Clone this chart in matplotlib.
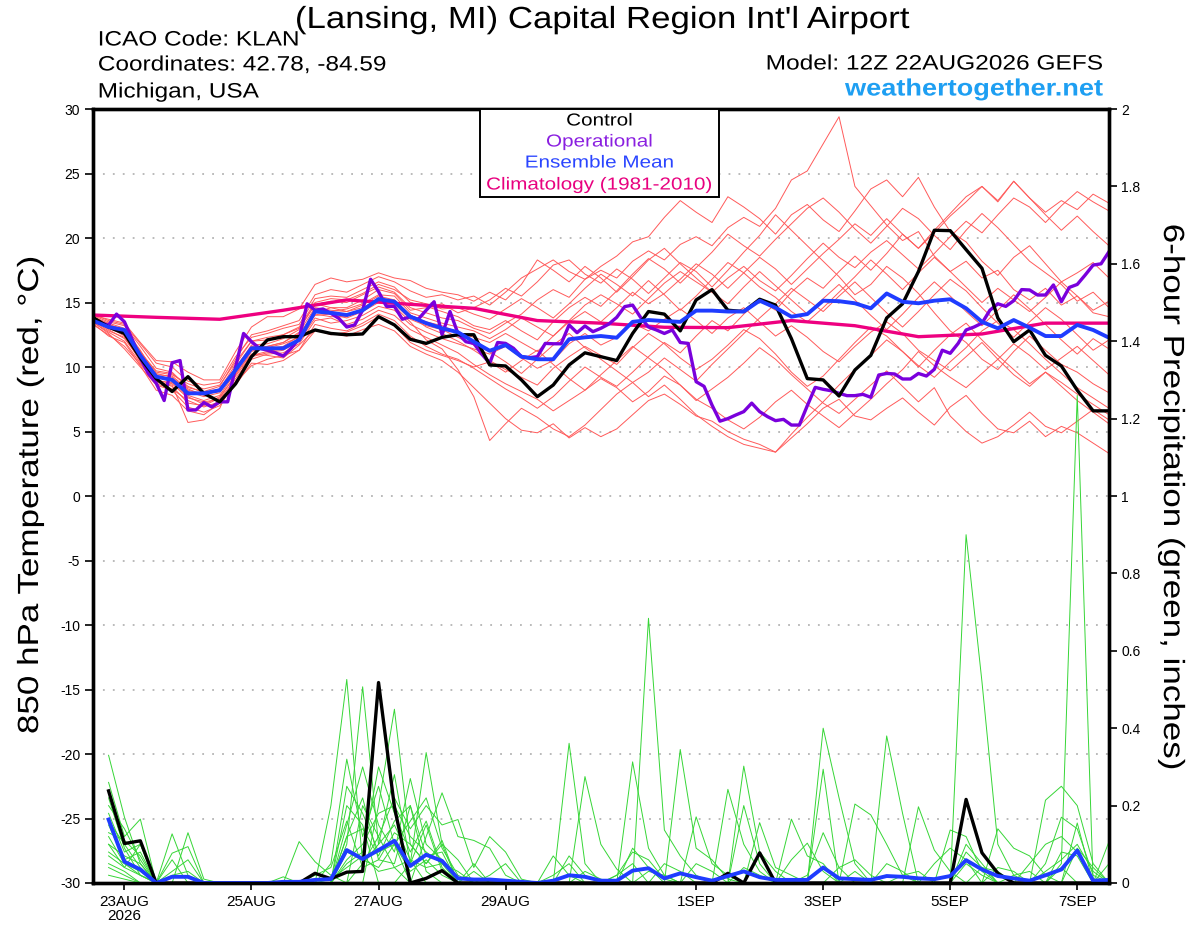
import matplotlib
matplotlib.use('Agg')
import matplotlib.pyplot as plt
from matplotlib.patches import Rectangle
from matplotlib.patheffects import AbstractPathEffect
from matplotlib.transforms import Affine2D
import numpy as np

plt.rcParams['font.family'] = ['Liberation Sans', 'DejaVu Sans']

# ---------------- DATA ----------------
# 6-hourly GEFS steps from 22AUG2026 12Z (hour 0) to hour 384
control_temp = [13.85, 13.1, 12.6, 10.7, 9.1, 8.1, 9.25, 7.96, 7.3, 8.7,
                10.8, 12.1, 12.35, 12.35, 12.87, 12.6, 12.5, 12.56, 13.9, 13.26,
                12.15, 11.83, 12.3, 12.5, 12.5, 10.16, 10.08, 9.0, 7.7, 8.6,
                10.16, 11.1, 10.8, 10.5, 12.6, 14.3, 14.1, 12.8, 15.2, 16.0,
                14.4, 14.3, 15.25, 14.8, 12.2, 9.1, 9.0, 7.75, 9.77, 10.9,
                13.8, 14.9, 17.4, 20.6, 20.57, 19.1, 17.65, 13.8, 11.96, 12.87,
                10.9, 10.08, 8.2, 6.6, 6.6]

mean_temp = [13.6, 13.1, 12.87, 10.9, 9.25, 9.0, 7.96, 7.96, 8.2, 9.77,
             11.45, 11.45, 11.45, 12.1, 14.3, 14.2, 14.03, 14.4, 15.27, 15.06,
             13.9, 13.4, 13.0, 12.7, 11.96, 11.26, 11.7, 10.8, 10.6, 10.6,
             12.15, 12.3, 12.4, 12.27, 13.5, 13.64, 13.56, 13.5, 14.37, 14.37,
             14.3, 14.3, 15.14, 14.6, 13.9, 14.1, 15.14, 15.1, 14.94, 14.55,
             15.7, 15.06, 14.94, 15.14, 15.25, 14.55, 13.5, 13.0, 13.64, 13.05,
             12.4, 12.4, 13.26, 12.87, 12.27]

# operational run, 3-hourly
oper_temp = [13.7, 13.4, 13.25, 14.1, 13.5, 12.1, 10.7, 9.5, 8.75, 7.4,
             10.33, 10.5, 6.67, 6.67, 7.24, 6.9, 7.3, 7.3, 10.0, 12.6,
             11.96, 11.45, 11.3, 11.1, 10.85, 11.45, 12.2, 14.9, 14.4, 14.5,
             14.16, 13.77, 13.1, 13.26, 14.4, 16.8, 15.84, 14.7, 14.7, 13.7,
             13.9, 13.7, 14.4, 15.06, 12.5, 14.3, 12.6, 11.96, 11.83, 11.0,
             10.3, 11.9, 11.83, 11.45, 10.8, 10.72, 10.8, 11.83, 11.8, 11.8,
             13.26, 12.66, 13.18, 12.74, 13.0, 13.33, 13.85, 14.68, 14.8, 13.85,
             13.1, 12.87, 12.6, 12.87, 11.9, 11.83, 8.86, 8.5, 7.05, 5.8,
             6.0, 6.28, 6.54, 7.2, 6.54, 6.15, 5.84, 5.94, 5.5, 5.5,
             7.0, 8.42, 8.27, 8.16, 7.96, 7.78, 7.78, 7.88, 7.65, 9.38,
             9.5, 9.46, 9.07, 9.07, 9.5, 9.3, 9.82, 11.3, 11.06, 11.83,
             12.87, 13.1, 13.4, 14.4, 14.9, 14.7, 15.14, 16.0, 15.97, 15.58,
             15.58, 16.36, 15.06, 16.17, 16.4, 17.13, 17.9, 18.0, 18.94]

# climatology, daily
clim_temp = [14.03, 13.85, 13.7, 14.4, 15.2, 14.86, 14.55, 13.6, 13.4,
             13.08, 13.05, 13.6, 13.2, 12.35, 12.56, 13.4, 13.4]

# ensemble members, 850 hPa temperature (6-hourly)
mem_t01 = [13.8,13.3,12.9,11.2,9.6,9.4,8.7,8.3,8.6,10.4,12.0,12.3,12.5,13.0,14.8,15.1,15.0,15.6,16.2,15.8,14.6,14.2,13.8,13.6,13.0,
           12.6,13.4,14.1,15.2,16.0,15.4,16.8,17.5,16.9,18.2,19.0,18.3,19.5,20.1,19.4,20.8,21.6,20.9,22.3,24.5,
           25.2,27.3,29.4,24.0,22.5,21.0,19.8,20.5,18.6,17.4,18.2,16.9,17.5,16.0,15.2,16.1,14.8,15.5,14.2,13.9]
mem_t02 = [13.5,12.6,11.4,10.0,8.6,8.2,6.9,6.5,7.0,8.8,10.1,10.6,10.9,11.3,12.8,12.6,12.4,12.9,13.3,12.8,11.6,11.0,10.5,9.6,8.4,
           7.2,6.0,5.1,4.9,5.6,4.5,5.3,4.6,5.2,6.3,7.4,7.9,7.1,6.2,5.8,5.0,4.4,4.0,3.4,4.5,
           5.6,6.8,7.5,6.2,5.9,6.8,7.6,6.5,5.5,6.9,7.8,6.4,5.2,4.9,5.8,4.6,5.4,4.9,4.1,3.3]
mem_t03 = [14.0,13.5,13.2,11.6,9.9,9.6,8.4,8.1,8.5,10.6,12.5,12.8,13.2,13.6,15.6,16.0,15.8,16.4,17.0,16.6,15.9,15.4,15.6,15.2,15.5,
           14.8,15.8,16.9,17.6,18.3,17.4,16.8,17.8,18.6,19.7,20.1,21.6,22.9,22.0,21.2,23.2,22.4,21.5,20.3,21.8,
           22.6,21.4,20.5,22.1,23.8,24.5,23.2,24.7,22.4,20.5,19.7,18.2,17.1,18.5,19.4,18.0,16.6,17.3,18.1,16.9]
mem_t04 = [13.6,13.0,12.5,10.4,8.9,8.5,7.2,7.0,7.6,9.4,11.2,11.6,11.9,12.6,14.2,14.6,14.3,14.8,15.5,15.2,14.0,13.1,12.6,12.0,11.3,
           10.5,9.8,9.2,8.6,9.9,10.8,11.6,10.9,10.2,11.5,12.6,11.8,10.7,9.8,10.6,11.7,12.9,12.2,11.0,9.6,
           8.5,9.3,10.6,11.9,13.1,12.4,11.2,10.1,9.2,10.4,11.5,12.8,13.6,12.9,11.8,10.6,9.5,8.4,7.6,6.8]
mem_t05 = [13.9,13.4,13.0,11.3,9.3,9.1,8.1,7.7,8.0,9.9,11.7,11.8,12.2,12.9,14.9,14.6,14.6,15.2,16.0,15.7,14.4,14.6,14.9,14.2,14.6,
           15.2,16.1,15.5,16.6,17.9,18.3,17.2,16.5,17.6,16.8,15.7,16.9,18.1,17.4,16.2,17.5,18.9,20.2,21.8,20.6,
           19.4,18.2,17.0,15.6,16.4,17.8,16.9,15.7,14.2,12.8,11.9,10.6,9.8,11.2,12.4,11.3,10.2,9.6,8.7,8.0]
mem_t06 = [13.4,12.4,11.9,10.1,8.2,7.8,6.6,6.3,7.2,8.6,10.3,10.2,10.5,11.3,13.3,13.0,12.8,13.4,14.1,13.6,12.4,11.6,11.0,10.6,9.9,
           9.1,8.3,7.6,6.8,7.7,8.9,10.0,9.2,8.5,9.6,10.8,11.9,11.1,12.4,13.6,12.8,14.1,15.2,14.4,15.8,
           16.9,16.1,17.4,18.6,17.5,18.8,20.3,19.2,20.4,21.7,22.8,24.0,22.9,24.4,23.1,22.0,22.9,22.2,23.4,22.7]
mem_t07 = [13.7,12.9,12.2,10.6,9.0,8.7,7.6,7.3,7.5,9.1,10.8,11.1,11.3,12.0,13.8,13.4,13.6,14.0,14.7,14.4,13.3,12.7,12.2,11.8,11.4,
           11.0,11.6,10.7,9.9,10.5,11.8,12.6,11.7,12.3,13.4,12.8,13.7,14.5,13.6,12.6,13.8,14.6,13.5,12.4,13.2,
           12.3,11.2,10.4,11.6,12.7,13.5,12.6,11.3,10.5,9.7,10.8,11.9,10.6,9.4,8.5,9.6,8.8,7.9,7.1,6.3]
mem_t08 = [14.1,13.6,13.3,11.8,10.3,10.0,8.9,8.6,8.8,10.8,12.3,12.6,13.0,13.3,15.3,15.5,15.4,16.0,16.6,16.2,15.0,14.7,14.3,13.9,13.2,
           12.9,13.6,12.8,12.1,13.5,14.6,15.4,14.7,15.9,17.2,18.4,17.6,16.5,17.7,18.9,20.3,19.4,18.6,19.9,21.1,
           22.3,23.1,22.0,20.7,19.6,20.9,22.3,21.5,20.2,19.1,20.6,21.9,20.8,19.5,18.2,17.3,16.4,15.1,15.8,14.6]
mem_t09 = [13.5,12.7,12.0,10.3,8.7,8.3,7.4,6.9,7.3,8.9,10.6,11.0,11.1,11.8,13.6,13.8,13.3,13.7,14.4,14.0,12.9,12.3,11.7,11.1,10.2,
           9.4,8.7,8.1,7.5,6.6,7.4,8.2,9.1,8.4,7.3,8.1,9.3,8.6,7.5,6.8,5.9,5.2,6.1,7.3,8.2,
           7.1,6.2,5.3,6.4,7.5,8.7,9.8,11.2,10.1,9.2,8.4,9.5,10.6,11.8,10.9,9.8,10.7,11.6,10.5,9.4]
mem_t10 = [13.8,13.2,12.7,11.0,9.5,9.2,8.2,7.9,8.1,10.0,11.6,11.5,11.8,12.3,14.5,14.3,14.5,14.9,15.6,15.5,14.2,13.8,13.4,13.1,12.8,
           12.2,12.9,13.8,13.1,12.4,13.6,14.8,15.6,14.9,14.1,15.3,16.5,17.4,16.6,15.8,16.9,17.8,16.7,15.9,17.1,
           18.4,19.6,18.5,17.7,18.9,19.8,18.7,17.6,18.8,20.1,21.3,20.4,21.8,23.1,22.4,21.2,22.5,23.6,22.8,22.1]
mem_t11 = [13.6,13.1,12.4,10.8,9.2,8.9,7.8,7.4,7.8,9.6,11.3,11.4,11.6,12.4,14.0,14.1,13.8,14.3,15.0,14.7,13.5,12.1,11.4,9.8,7.7,
           4.3,5.6,6.8,6.1,5.2,4.6,5.5,6.7,7.9,8.8,9.6,10.7,9.8,8.9,10.2,11.4,12.6,13.8,14.9,16.1,
           15.2,14.3,15.5,16.6,15.4,14.2,13.1,14.3,15.6,16.8,15.9,14.6,13.4,12.3,13.5,14.6,13.7,12.5,11.3,12.1]
mem_t12 = [14.0,13.7,13.4,11.9,10.5,10.4,9.6,9.0,9.0,11.2,13.1,13.9,13.9,14.5,16.4,16.9,16.6,16.8,17.3,16.9,16.7,16.1,15.8,15.6,15.1,
           15.8,15.2,16.4,18.3,17.5,16.6,17.8,16.9,15.8,17.0,18.3,19.2,18.0,16.9,15.8,14.9,16.2,17.4,16.3,15.2,
           14.1,15.3,16.4,15.2,14.0,12.9,14.1,15.4,16.6,15.5,14.3,13.2,14.4,15.6,14.5,13.3,12.1,11.0,12.2,11.4]
mem_t13 = [13.3,12.5,11.6,10.2,8.8,8.6,5.7,5.9,6.8,9.5,11.0,10.9,10.7,11.7,12.9,12.5,12.7,13.2,13.9,13.2,11.9,11.3,10.9,10.5,10.0,
           10.4,9.6,10.5,11.3,10.2,9.1,8.2,9.4,10.5,11.6,10.7,9.8,8.6,7.4,8.3,9.2,10.3,11.5,10.6,9.4,
           8.3,7.2,6.4,7.5,8.6,9.7,8.5,7.3,8.4,6.2,5.0,4.1,4.6,5.5,6.5,5.4,4.9,5.8,6.7,5.9]
mem_t14 = [13.9,13.3,12.8,11.1,9.7,9.5,8.5,8.0,8.3,10.2,12.0,12.1,12.5,13.1,15.0,15.3,15.2,15.7,16.4,16.0,15.2,14.9,14.5,14.6,14.1,
           13.7,14.5,15.3,14.6,13.8,14.9,16.1,17.2,16.4,15.5,16.7,15.6,14.4,15.5,16.8,18.1,17.3,16.2,15.4,14.3,
           13.5,14.6,15.8,17.0,18.3,17.2,16.0,17.3,18.5,17.4,16.2,15.0,16.1,15.2,14.3,15.4,16.6,15.5,14.4,15.1]
mem_t15 = [13.6,12.8,12.3,10.5,8.9,8.8,7.7,7.1,7.7,9.3,10.9,11.2,11.4,12.2,14.1,13.9,13.9,14.5,15.1,14.9,13.7,13.2,12.9,12.3,11.7,
           11.2,10.4,9.5,10.6,11.7,12.6,11.5,10.6,9.7,8.8,7.7,8.6,7.5,6.3,5.4,4.6,4.0,3.7,3.4,4.8,
           6.1,7.3,8.6,9.8,10.9,12.1,11.2,10.0,11.3,12.5,13.4,12.1,10.9,9.8,8.7,9.6,8.5,7.4,6.5,5.6]
mem_t16 = [13.7,13.2,12.8,11.2,9.4,9.3,8.3,7.8,8.2,9.8,11.5,11.6,11.9,12.7,14.6,14.4,14.3,14.6,15.3,15.2,14.0,13.5,13.2,12.7,12.3,
           11.9,12.6,11.9,11.2,12.4,13.5,14.3,13.5,14.6,15.8,14.9,15.7,16.8,18.0,17.2,16.1,17.3,18.5,17.6,16.4,
           17.6,18.8,19.9,21.1,20.2,21.5,20.3,19.2,20.6,21.9,23.2,24.0,22.8,24.4,23.1,21.8,20.6,21.7,20.5,19.4]

# 6-hour precipitation (inches), steps 1..64 (hours 6..384)
control_prcp = [.238,.102,.109,0,0,0,0,0,0,0,0,0,0,.025,.011,.028,
                .03,.518,.197,0,.012,.032,0,0,0,0,0,0,0,0,0,0,
                0,0,0,0,0,0,0,.025,0,.078,0,0,0,0,0,0,
                0,0,0,0,0,0,.216,.078,.025,0,0,0,0,0,0,0]
mean_prcp = [.164,.055,.035,0,.016,.016,0,0,0,0,0,.003,.003,.008,.01,.085,
             .062,.085,.109,.044,.073,.057,.012,.009,.009,.006,.003,0,.006,.02,.016,.006,
             .006,.032,.038,.012,.025,.015,.006,.018,.03,.015,.008,.008,.008,.04,.012,.01,
             .008,.018,.016,.012,.01,.018,.059,.035,.018,.012,.006,.02,.035,.084,.006,.008]

mem_p01 = [.33,.17,.05,0,.127,.02,0,0,0,0,0,0,0,0,.2,.526,
           .05,.12,.04,0,0,0,0,0,0,0,0,0,0,.07,.02,0,
           0,0,0,0,0,0,0,0,0,0,0,0,0,.40,.22,.05,
           0,0,0,0,0,0,.05,.02,0,0,0,0,.04,0,0,0]
mem_p02 = [.26,.12,.165,0,0,.13,.01,0,0,0,0,0,0,0,0,.1,
           .507,.1,.15,.06,0,0,0,.05,0,0,0,0,0,0,0,0,
           0,.313,.09,.02,0,0,0,0,0,0,0,0,0,.294,0,.03,
           0,0,0,0,0,0,0,0,0,0,0,.05,.17,.14,.02,0]
mem_p03 = [.22,.09,.02,0,.077,.094,0,0,0,0,0,0,.107,.055,.02,0,
           0,.2,.449,.1,.05,.1,0,0,0,0,0,0,0,0,0,0,
           0,0,.684,.137,.07,.02,0,0,0,0,0,0,0,0,0,.204,
           .176,.1,.02,0,0,0,0,0,0,0,0,0,0,0,0,.107]
mem_p04 = [.2,.14,.06,0,.06,0,0,0,0,0,0,.016,0,0,0,.2,
           .15,0,0,.05,.337,.1,.06,0,0,0,0,0,0,.361,.05,0,
           0,0,0,0,0,0,0,0,.2,.05,0,0,0,0,0,0,
           0,.38,.18,0,0,0,.1,.05,0,0,0,0,0,0,0,0]
mem_p05 = [.18,.08,.1,0,0,0,0,0,0,0,0,0,0,0,0,.15,
           .3,.15,.08,.27,.1,.06,0,0,0,0,0,0,0,0,.275,.1,
           .036,0,0,0,0,0,0,0,0,0,0,0,0,0,0,0,
           0,0,0,.197,.085,.03,0,0,0,0,0,0,0,.155,0,0]
mem_p06 = [.16,.1,.04,0,0,0,0,0,0,0,0,0,0,0,.05,.32,
           .12,.25,.1,0,.12,.233,.12,.11,.09,.02,0,0,0,0,0,0,
           0,0,0,0,.345,.09,.06,.01,0,0,0,0,0,0,0,0,
           0,0,0,0,0,.137,.12,.03,0,0,0,0,0,0,0,0]
mem_p07 = [.15,.06,.08,0,.03,.06,0,0,0,0,0,0,0,0,0,0,
           .2,.12,.22,.14,.2,.15,.164,.04,.12,.08,.01,0,0,0,0,0,
           0,0,0,0,0,.171,.05,.02,0,0,0,0,0,0,0,0,
           0,0,0,0,0,0,.9,.52,.1,.02,0,0,0,0,0,0]
mem_p08 = [.13,.11,.07,0,0,0,0,0,0,0,0,0,0,0,0,.05,
           .08,.3,.18,.08,.16,.04,0,0,0,0,0,0,.02,.05,0,0,
           0,.09,.04,0,0,0,0,.242,.1,.03,0,0,0,0,0,0,
           0,0,0,0,0,0,0,0,.14,.09,.07,.02,0,0,0,0]
mem_p09 = [.12,.05,.03,0,0,0,0,0,0,0,0,0,0,0,0,.25,
           .18,.08,.1,.16,.22,.09,.02,0,0,0,0,0,0,0,0,0,
           0,0,0,0,0,0,0,0,.302,.08,.03,0,0,0,0,0,
           0,0,0,0,0,0,0,0,0,0,0,.214,.25,.2,.05,0]
mem_p10 = [.1,.07,.05,0,0,0,0,0,0,0,0,0,0,0,0,.12,
           .22,.06,.13,.1,.05,.11,0,0,0,0,0,0,0,0,0,0,
           .02,.08,.06,.01,0,0,0,0,0,.156,.04,.02,0,0,0,0,
           0,0,0,0,0,0,0,0,0,0,0,0,.05,1.26,0,0]
mem_p11 = [.08,.05,.02,0,0,0,0,0,0,0,0,0,0,0,0,.06,
           .1,.18,.2,.12,.08,.05,0,0,0,0,0,0,0,0,0,0,
           0,0,0,0,0,0,0,0,0,0,0,.165,.07,.05,0,0,
           0,0,0,0,0,0,0,0,0,0,.05,.1,.12,.08,0,0]
mem_p12 = [.07,.04,.02,0,0,0,0,0,0,0,0,0,0,0,0,0,
           .05,.1,.28,.05,.15,.03,0,0,.02,.05,0,0,0,0,0,0,
           0,0,0,.05,.03,0,0,0,0,0,0,.06,.103,.03,0,0,
           0,0,0,0,.05,.09,.06,0,0,0,0,0,.08,.07,0,0]
mem_p13 = [.05,.03,0,0,0,0,0,0,0,0,0,0,0,.02,.04,.16,
           .04,.06,.05,.2,.03,0,0,0,0,0,0,0,.07,.02,0,0,
           0,0,0,0,0,.05,.03,0,0,0,0,0,0,0,.04,.06,
           .02,0,0,0,0,0,0,0,.04,.03,0,0,0,0,0,.05]
mem_p14 = [.04,.02,0,0,0,0,0,0,0,0,0,0,0,0,0,.08,
           .06,.04,.1,.03,.06,.02,0,0,0,0,0,0,0,0,.03,.01,
           0,0,.03,.02,0,0,0,0,0,0,0,0,0,0,0,0,
           0,.05,.03,0,0,0,.08,.04,0,0,0,.03,.06,.1,.03,0]
mem_p15 = [.02,.01,0,0,0,0,0,0,0,0,0,0,0,0,.01,.04,
           .07,.03,.04,.06,.04,.05,.03,0,0,0,0,0,0,0,0,0,
           .02,.05,0,0,0,0,0,0,.04,.02,0,0,0,0,0,0,
           0,0,.02,.03,0,0,0,0,0,.02,.03,0,0,0,0,0]
mem_p16 = [.1,.04,.1,0,.02,.03,0,0,0,0,0,0,0,0,0,.12,
           .14,.07,.16,.2,.07,.08,0,.03,0,0,0,0,0,0,0,0,
           0,0,0,0,0,0,0,0,0,0,0,0,.02,.13,.04,0,
           0,0,0,0,0,0,0,.04,.03,0,0,0,0,.09,.04,0]

tick_labels = ['23AUG\n2026', '25AUG', '27AUG', '29AUG', '1SEP', '3SEP', '5SEP', '7SEP']
tick_hours = [12, 60, 108, 156, 228, 276, 324, 372]
temp_ticks = [30, 25, 20, 15, 10, 5, 0, -5, -10, -15, -20, -25, -30]
prcp_ticks = [0, 0.2, 0.4, 0.6, 0.8, 1, 1.2, 1.4, 1.6, 1.8, 2]
prcp_tick_labels = ['0', '0.2', '0.4', '0.6', '0.8', '1', '1.2', '1.4', '1.6', '1.8', '2']

temp_members = [mem_t01, mem_t02, mem_t03, mem_t04, mem_t05, mem_t06, mem_t07, mem_t08,
                mem_t09, mem_t10, mem_t11, mem_t12, mem_t13, mem_t14, mem_t15, mem_t16]
prcp_members = [mem_p01, mem_p02, mem_p03, mem_p04, mem_p05, mem_p06, mem_p07, mem_p08,
                mem_p09, mem_p10, mem_p11, mem_p12, mem_p13, mem_p14, mem_p15, mem_p16]


# horizontal widening of text (the reference uses wide letter spacing)
class Stretch(AbstractPathEffect):
    def __init__(self, sx, anchor='center'):
        super().__init__()
        self.sx = sx
        self.anchor = anchor

    def draw_path(self, renderer, gc, tpath, affine, rgbFace=None):
        ext = tpath.get_extents()
        if self.anchor == 'left':
            x0 = ext.x0
        elif self.anchor == 'right':
            x0 = ext.x1
        else:
            x0 = (ext.x0 + ext.x1) / 2
        t = Affine2D().translate(-x0, 0).scale(self.sx, 1).translate(x0, 0)
        renderer.draw_path(gc, tpath, t + affine, rgbFace)


# ---------------- PLOT ----------------
h6 = np.arange(len(control_temp)) * 6
h3 = np.arange(len(oper_temp)) * 3
h24 = np.arange(len(clim_temp)) * 24
hp = (np.arange(len(control_prcp)) + 1) * 6

W, H = 1200, 927
fig = plt.figure(figsize=(W / 100, H / 100), dpi=100)
L, R, T, B = 92.7, 1109, 109, 883
ax = fig.add_axes([L / W, 1 - B / H, (R - L) / W, (B - T) / H])

c_red = '#ff5a5a'
c_green = '#36d636'
c_black = '#000000'
c_purple = '#7a00dc'
c_blue = '#1f3cff'
c_pink = '#ee0080'

for y in [25, 20, 15, 10, 5, 0, -5, -10, -15, -20, -25]:
    ax.axhline(y, color='#b4b4b4', lw=1.3, ls=(0, (1, 4.5)), zorder=0)

for m in temp_members:
    ax.plot(h6, m, color=c_red, lw=0.7, zorder=1)
ax.plot(h24, clim_temp, color=c_pink, lw=2.4, zorder=3)
ax.plot(h3, oper_temp, color=c_purple, lw=2.4, zorder=4)
ax.plot(h6, control_temp, color=c_black, lw=2.4, zorder=5)
ax.plot(h6, mean_temp, color=c_blue, lw=2.8, zorder=6)

ax.set_xlim(0, 384)
ax.set_ylim(-30, 30)
ax.set_yticks(temp_ticks)
ax.set_yticklabels([str(t) for t in temp_ticks])
ax.set_xticks(tick_hours)
ax.set_xticklabels(tick_labels, linespacing=1.0)
ax.tick_params(axis='y', direction='out', length=6, width=1.2, labelsize=10, pad=3)
ax.tick_params(axis='x', direction='out', length=5, width=1.2, labelsize=11, pad=4)

ax2 = ax.twinx()
for m in prcp_members:
    ax2.plot(hp, m, color=c_green, lw=0.7, zorder=1)
ax2.plot(hp, control_prcp, color=c_black, lw=2.4, zorder=5)
ax2.plot(hp, mean_prcp, color=c_blue, lw=2.8, zorder=6)
ax2.set_ylim(0, 2)
ax2.set_yticks(prcp_ticks)
ax2.set_yticklabels(prcp_tick_labels)
ax2.tick_params(axis='y', direction='out', length=6, width=1.2, labelsize=10, pad=3)
ax2.set_xlim(0, 384)

for a in (ax, ax2):
    for s in a.spines.values():
        s.set_linewidth(2.4)
        s.set_color('black')
        s.set_zorder(10)

# legend box
lx0, lx1 = (480 - L) / (R - L), (719 - L) / (R - L)
ly0 = (B - 197) / (B - T)
ax2.add_patch(Rectangle((lx0, ly0), lx1 - lx0, 1 - ly0, transform=ax2.transAxes,
                        facecolor='white', edgecolor='black', lw=1.4, zorder=20, clip_on=False))
legend_items = [('Control', c_black, 121), ('Operational', '#8a1fe0', 142),
                ('Ensemble Mean', '#2a45ff', 163), ('Climatology (1981-2010)', '#e8007f', 185)]
lcx = (599.5 - L) / (R - L)
for txt, col, yp in legend_items:
    ax2.text(lcx, (B - yp) / (B - T), txt, color=col, fontsize=12.5,
             ha='center', va='center', transform=ax2.transAxes, zorder=21,
             path_effects=[Stretch(1.19, 'center')])

# header texts
fig.text(601.5 / W, 1 - 20 / H, "(Lansing, MI) Capital Region Int'l Airport",
         fontsize=22, ha='center', va='center', path_effects=[Stretch(1.14, 'center')])
fig.text(98 / W, 1 - 40 / H, 'ICAO Code: KLAN', fontsize=15, ha='left', va='center',
         path_effects=[Stretch(1.17, 'left')])
fig.text(98 / W, 1 - 65 / H, 'Coordinates: 42.78, -84.59', fontsize=15, ha='left', va='center',
         path_effects=[Stretch(1.17, 'left')])
fig.text(98 / W, 1 - 92 / H, 'Michigan, USA', fontsize=15, ha='left', va='center',
         path_effects=[Stretch(1.17, 'left')])
fig.text(1103 / W, 1 - 64 / H, 'Model: 12Z 22AUG2026 GEFS', fontsize=15, ha='right', va='center',
         path_effects=[Stretch(1.175, 'right')])
fig.text(1103 / W, 1 - 89 / H, 'weathertogether.net', fontsize=17, ha='right', va='center',
         color='#1e9ff2', fontweight='bold', path_effects=[Stretch(1.15, 'right')])

fig.text(30 / W, 1 - 495 / H, '850 hPa Temperature (red, \u00b0C)', fontsize=21,
         rotation=90, ha='center', va='center', path_effects=[Stretch(1.2, 'center')])
fig.text(1172 / W, 1 - 497 / H, '6-hour Precipitation (green, inches)', fontsize=21,
         rotation=-90, ha='center', va='center', path_effects=[Stretch(1.2, 'center')])

fig.savefig('out.png', dpi=100)
